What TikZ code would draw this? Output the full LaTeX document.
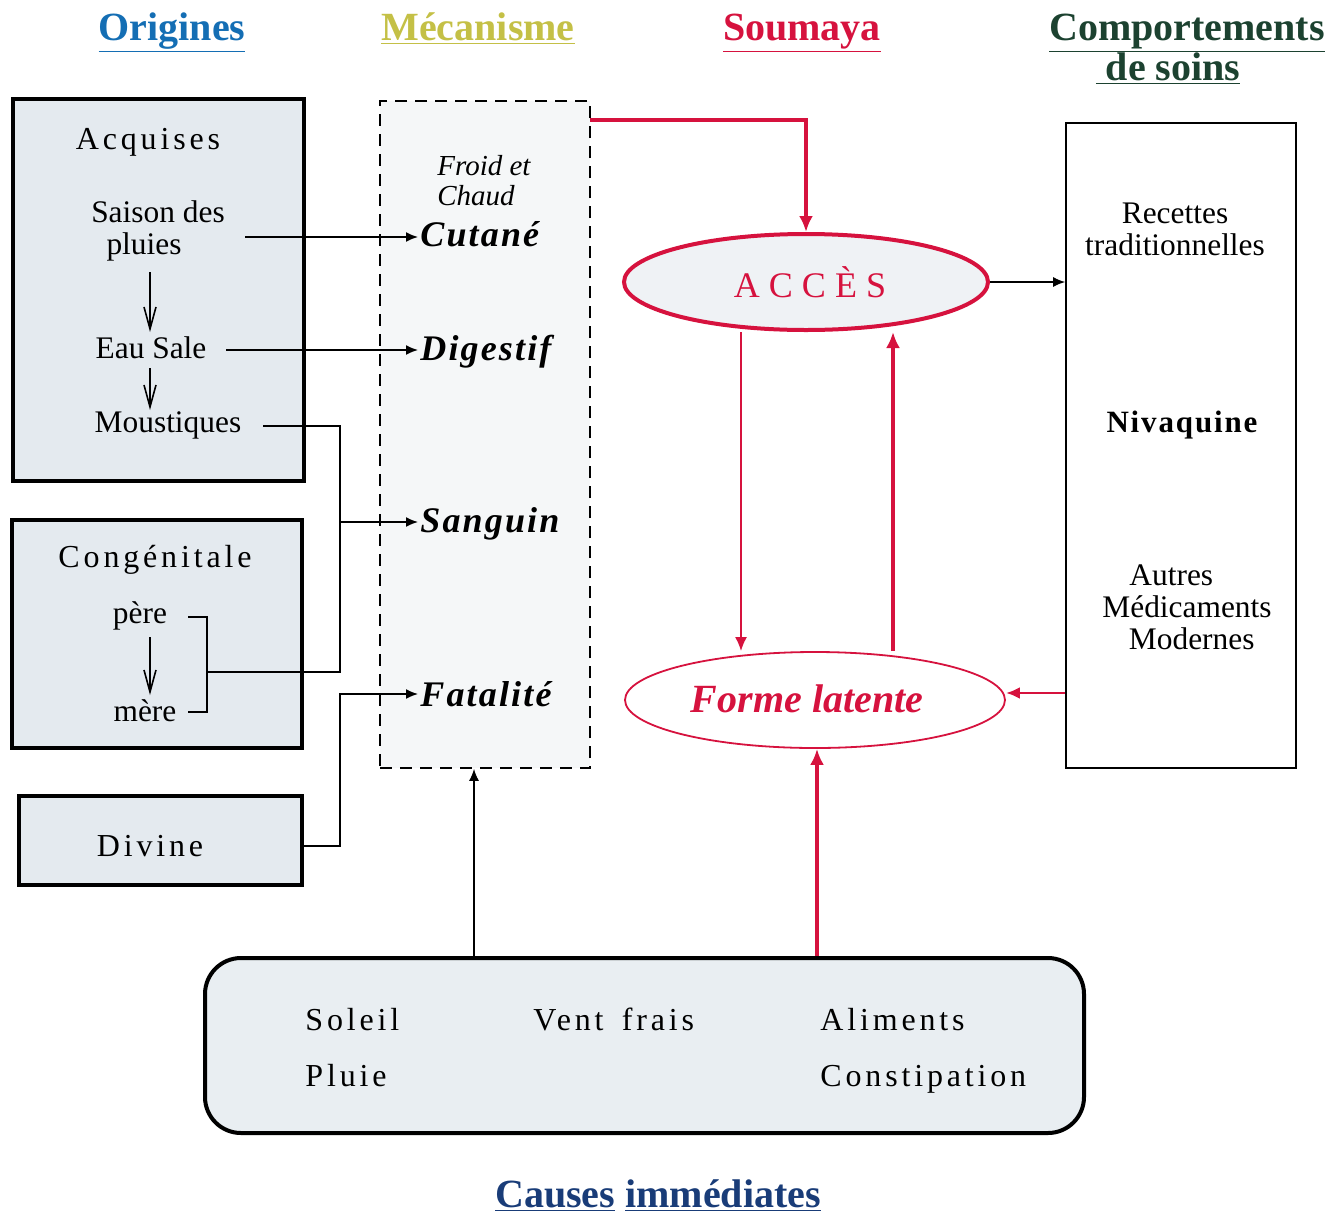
\documentclass[tikz,border=0pt]{standalone}
\usepackage{fontspec}
\setmainfont{Liberation Serif}
\newfontfamily\spaced[LetterSpace=12]{Liberation Serif}
\newfontfamily\wide[LetterSpace=25]{Liberation Serif}
\newfontfamily\lsp[LetterSpace=6]{Liberation Serif}
\usetikzlibrary{arrows.meta,shapes.geometric,fit,calc}
\definecolor{boxfill}{RGB}{228,234,239}
\definecolor{botfill}{RGB}{233,238,242}
\definecolor{mechfill}{RGB}{245,247,248}
\definecolor{crim}{RGB}{214,18,62}
\definecolor{hblue}{RGB}{20,110,180}
\definecolor{holive}{RGB}{196,192,70}
\definecolor{hgreen}{RGB}{28,66,48}
\definecolor{hnavy}{RGB}{25,60,120}
\tikzset{
  thickbox/.style={draw=black, line width=2.2pt, fill=boxfill, inner sep=0pt},
  arr/.style={-{Latex[length=6pt,width=5pt]}, line width=0.8pt},
  varr/.style={-{Straight Barb[length=11pt,width=6pt]}, line width=0.8pt},
  redarr/.style={draw=crim, -{Latex[length=7pt,width=6pt]}, line width=0.9pt},
  redthick/.style={draw=crim, -{Latex[length=8pt,width=7pt]}, line width=1.6pt},
  plain/.style={font=\fontsize{15.7}{16}\selectfont, align=center, inner sep=1pt},
  mech/.style={font=\fontsize{18}{20}\selectfont\bfseries\itshape\lsp, anchor=west, inner sep=1pt},
  head/.style={font=\fontsize{20}{22}\selectfont\bfseries, inner sep=0pt, align=center, anchor=base},
  spacedtxt/.style={font=\fontsize{16}{18}\selectfont\spaced, inner sep=1pt},
  cause/.style={font=\fontsize{16}{18}\selectfont\spaced, anchor=base west, inner sep=1pt}
}
\begin{document}
\begin{tikzpicture}[x=0.5pt,y=-0.5pt]
\useasboundingbox (0,0) rectangle (1343,1216);
% headers
\node[head, text=hblue] (h1) at (172,40) {\underline{Origines}};
\node[head, text=holive] (h2) at (478,40) {\underline{Mécanisme}};
\node[head, text=crim] (h3) at (802,40) {\underline{Soumaya}};
\node[head, text=hgreen] (h4) at (1187,40) {\underline{Comportements}};
\node[head, text=hgreen] (h4b) at (1168,80) {\underline{\ de soins}};
\node[head, text=hnavy] (h5) at (658,1207) {\underline{Causes} \underline{immédiates}};

% left boxes
\node[thickbox, fit={(13,99) (304,481)}] (acq) {};
\node[thickbox, fit={(12,520) (302,748)}] (cong) {};
\node[thickbox, fit={(19,796) (302,885)}] (div) {};
% mechanism box
\node[draw=black, dash pattern=on 6pt off 4pt, line width=0.8pt, fill=mechfill, inner sep=0pt, fit={(380,101) (590,768)}] (mechbox) {};
% right box
\node[draw=black, line width=0.8pt, fill=white, inner sep=0pt, fit={(1066,123) (1296,768)}] (rbox) {};
% bottom box
\node[draw=black, line width=2pt, rounded corners=18pt, fill=botfill, inner sep=0pt, fit={(205,958) (1084,1133)}] (bot) {};

% texts in Acquises
\node[spacedtxt] (acqt) at (148,142) {Acquises};
\node[plain] (saison) at (158,231) {Saison des\\\hspace*{-14pt}pluies};
\node[plain] (eau) at (151,348) {Eau Sale};
\node[plain] (moust) at (168,425) {Moustiques};
\draw[varr] (150,272) coordinate (a1) -- (150,332) coordinate (a2);
\draw[varr] (150,368) coordinate (a3) -- (150,410) coordinate (a4);
% Congenitale
\node[spacedtxt] (congt) at (155,560) {Congénitale};
\node[plain] (pere) at (140,616) {père};
\node[plain] (mere) at (145,711) {mère};
\draw[varr] (150,637) coordinate (a5) -- (150,695) coordinate (a6);
% Divine
\node[spacedtxt] (divt) at (150,846) {Divine};

% mechanism texts
\node[font=\fontsize{14.5}{15}\selectfont\itshape, align=left, anchor=west, inner sep=0pt] (froid) at (437,181) {Froid et\\Chaud};
\node[mech] (cutane) at (418,234) {Cutané};
\node[mech] (digestif) at (418,352) {Digestif};
\node[mech] (sanguin) at (418,524) {Sanguin};
\node[mech] (fatalite) at (418,694) {Fatalité};

% connectors from origins
\coordinate (saisonR) at (245,237);
\coordinate (eauR) at (226,350);
\coordinate (moustR) at (263,426);
\coordinate (j1) at (340,522);
\coordinate (j2) at (340,694);
\draw[arr] (saisonR) -- (saisonR -| cutane.west);
\draw[arr] (eauR) -- (eauR -| digestif.west);
\draw[arr] (moustR) -| (j1) -- (j1 -| sanguin.west);
\coordinate (b1) at (188,617);
\coordinate (b2) at (207,617);
\coordinate (b3) at (207,712);
\coordinate (b4) at (188,712);
\coordinate (b5) at (207,672);
\coordinate (b6) at (340,672);
\draw[line width=0.8pt] (b1) -- (b2) -- (b3) -- (b4);
\draw[line width=0.8pt] (b5) -- (b6) -- (j1);
\draw[arr] (div.east |- 0,846) -| (j2) -- (j2 -| fatalite.west);

% Soumaya ellipses
\node[ellipse, draw=crim, line width=2pt, fill=boxfill!60!white, minimum width=182pt, minimum height=48pt, inner sep=0pt] (acces) at (806,282) {};
\node[text=crim, font=\fontsize{18}{19}\selectfont\wide] (accest) at (810,282) {ACCÈS};
\node[ellipse, draw=crim, line width=0.9pt, fill=white, minimum width=190pt, minimum height=48pt, inner sep=0pt] (forme) at (815,700) {};
\node[text=crim, font=\fontsize{20}{22}\selectfont\bfseries\itshape] (formet) at (807,699) {Forme latente};

% red connectors
\coordinate (rs) at (590,120);
\draw[redthick] (rs) -| (acces.north);
\coordinate (dx) at (741,0);
\coordinate (ux) at (893,0);
\coordinate (bx) at (817,0);
\coordinate (ry) at (0,693);
\draw[redarr] (acces.south -| dx) -- (forme.north -| dx);
\draw[redthick] (forme.north -| ux) -- (acces.south -| ux);
\draw[redthick] (bot.north -| bx) -- (forme.south -| bx);
\draw[draw=crim, -{Latex[length=7pt,width=6pt]}, line width=1.4pt] (rbox.west |- ry) -- (forme.east |- ry);
% black connectors
\draw[arr] (acces.east) -- (acces.east -| rbox.west);
\coordinate (mx) at (474,0);
\draw[arr] (bot.north -| mx) -- (mechbox.south -| mx);

% right box texts
\node[plain] (recettes) at (1175,229) {Recettes\\traditionnelles};
\node[font=\fontsize{15.5}{17}\selectfont\bfseries\lsp] (niva) at (1182,425) {Nivaquine};
\node[plain] (autres) at (1187,607) {\hspace*{-1em}Autres\\Médicaments\\\hspace*{0.3em}Modernes};

% causes
\node[cause] (soleil) at (303,1030) {Soleil};
\node[cause] (pluie) at (303,1086) {Pluie};
\node[cause] (vent) at (531,1030) {Vent\hspace{0.2em} frais};
\node[cause] (aliments) at (818,1030) {Aliments};
\node[cause] (constip) at (818,1086) {Constipation};
\end{tikzpicture}
\end{document}
